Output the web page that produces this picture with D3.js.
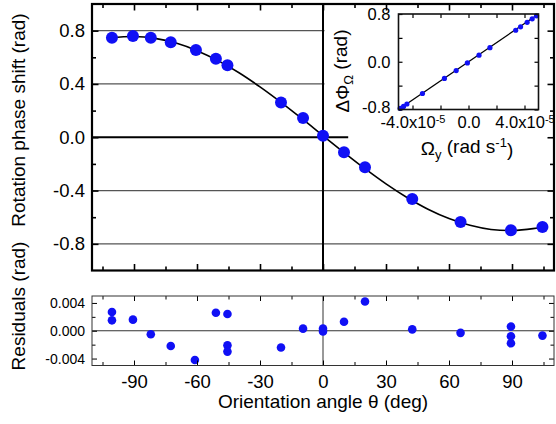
<!DOCTYPE html>
<html><head><meta charset="utf-8">
<script src="https://cdn.jsdelivr.net/npm/d3@7"></script>
<style>
body{margin:0;background:#fff}
text{font-family:"Liberation Sans",Arial,Helvetica,sans-serif;fill:#000}
</style>
</head><body>
<svg id="c" width="556" height="424"></svg>
<script>
// ---- data ----
const thetaMain = [-100.5, -90.5, -82, -72.5, -60.5, -51, -45.5, -20, -9.5, 0, 10, 20, 42.5, 65.5, 89.5, 104.5];
const phaseMain = [0.747, 0.760, 0.747, 0.713, 0.655, 0.590, 0.540, 0.261, 0.144, 0.012, -0.113, -0.226, -0.463, -0.636, -0.698, -0.674];

const fitTheta = [-101, -90, -80, -70, -60, -50, -40, -30, -20, -10, 0, 10, 20, 30, 40, 50, 60, 70, 80, 90, 100, 105];
const fitPhase = [0.746, 0.756, 0.742, 0.707, 0.650, 0.575, 0.484, 0.378, 0.262, 0.139, 0.012, -0.114, -0.236, -0.350, -0.452, -0.540, -0.610, -0.661, -0.692, -0.700, -0.686, -0.671];

const thetaRes = [-100.5, -100.5, -90.5, -82, -72.5, -61, -51, -45.5, -45.5, -45.5, -20, -9.5, 0, 0, 10, 20, 42.5, 65.5, 89.5, 89.5, 89.5, 104.5];
const residuals = [0.0027, 0.0015, 0.0016, -0.0005, -0.0022, -0.0042, 0.0026, 0.0024, -0.0021, -0.0030, -0.0024, 0.0003, 0.0003, -0.0001, 0.0013, 0.0042, 0.0002, -0.0003, 0.0006, -0.0008, -0.0018, -0.0007];

const omegaInset = [-4.88e-5, -4.64e-5, -4.40e-5, -3.29e-5, -1.72e-5, -0.88e-5, -0.08e-5, 0.75e-5, 1.53e-5, 3.37e-5, 3.72e-5, 4.19e-5, 4.55e-5, 4.86e-5];
const dPhiInset = [-0.781, -0.748, -0.708, -0.532, -0.280, -0.148, -0.020, 0.110, 0.235, 0.528, 0.585, 0.660, 0.720, 0.770];
const insetFitOmega = [-5e-5, 5e-5];
const insetFitPhi = [-0.80, 0.80];

const mainGrid = [0.8, 0.4, -0.4, -0.8];
const mainYLabels = [-0.8, -0.4, 0.0, 0.4, 0.8];
const mainYMinor = [-0.6, -0.2, 0.2, 0.6];
const xMajor = [-90, -60, -30, 0, 30, 60, 90];
const xMinor = [-105, -75, -45, -15, 15, 45, 75, 105];
const resYLabels = [-0.004, 0.000, 0.004];
const resYMinor = [-0.002, 0.002];
const insetXTicks = [-4e-5, -2e-5, 0, 2e-5, 4e-5];
const insetXLabels = [-4e-5, 0, 4e-5];
const insetYTicks = [-0.8, -0.4, 0, 0.4, 0.8];
const insetYLabels = [-0.8, 0, 0.8];

// ---- scales ----
const svg = d3.select("#c");
const x = d3.scaleLinear().domain([-110, 110]).range([92, 554]);
const y = d3.scaleLinear().domain([-1, 1]).range([270.5, 4]);
const yr = d3.scaleLinear().domain([-0.005, 0.005]).range([365.5, 296]);
const xi = d3.scaleLinear().domain([-5e-5, 5e-5]).range([398.5, 538.5]);
const yi = d3.scaleLinear().domain([-0.8, 0.8]).range([109.5, 14]);
const blue = "#1010f5";

// ---- main panel ----
const gm = svg.append("g");
gm.selectAll(".grid").data(mainGrid).join("line")
  .attr("x1", x(-110)).attr("x2", x(110)).attr("y1", d => y(d)).attr("y2", d => y(d))
  .attr("stroke", "#555").attr("stroke-width", 1.2);
gm.append("line").attr("x1", x(-110)).attr("x2", x(110)).attr("y1", y(0)).attr("y2", y(0))
  .attr("stroke", "#000").attr("stroke-width", 2);

// white background area of the inset (covers part of the grid)
gm.append("path").attr("fill", "#fff")
  .attr("d", `M${x(0)+1.5},5 H553 V172 H${x(12)} V${y(0)-2} H${x(0)+1.5} Z`);

gm.append("line").attr("x1", x(0)).attr("x2", x(0)).attr("y1", y(1)).attr("y2", y(-1))
  .attr("stroke", "#000").attr("stroke-width", 2);

const fitPts = fitTheta.map((t, i) => [t, fitPhase[i]]);
gm.append("path").datum(fitPts)
  .attr("d", d3.line().x(d => x(d[0])).y(d => y(d[1])).curve(d3.curveCatmullRom))
  .attr("fill", "none").attr("stroke", "#000").attr("stroke-width", 1.6);

gm.selectAll(".pt").data(thetaMain.map((t, i) => [t, phaseMain[i]])).join("circle")
  .attr("cx", d => x(d[0])).attr("cy", d => y(d[1])).attr("r", 6).attr("fill", blue);

// main axes (inward ticks)
function styleAxis(g, sw, fs) {
  g.select(".domain").remove();
  g.selectAll(".tick line").attr("stroke", "#000").attr("stroke-width", sw);
  g.selectAll(".tick text").attr("font-size", fs).attr("font-family", "Liberation Sans, Arial, sans-serif").attr("fill", "#000");
}
const mainAxes = [
  [d3.axisBottom(x).tickValues(xMajor).tickSize(-6.5).tickFormat(""), `translate(0,${y(-1)})`],
  [d3.axisBottom(x).tickValues(xMinor).tickSize(-4).tickFormat(""), `translate(0,${y(-1)})`],
  [d3.axisTop(x).tickValues(xMajor).tickSize(-6.5).tickFormat(""), `translate(0,${y(1)})`],
  [d3.axisTop(x).tickValues(xMinor).tickSize(-4).tickFormat(""), `translate(0,${y(1)})`],
  [d3.axisLeft(y).tickValues(mainYLabels).tickSize(-6.5).tickPadding(7).tickFormat(d3.format(".1f")), `translate(${x(-110)},0)`],
  [d3.axisLeft(y).tickValues(mainYMinor).tickSize(-4).tickFormat(""), `translate(${x(-110)},0)`],
  [d3.axisRight(y).tickValues(mainYLabels).tickSize(-6.5).tickFormat(""), `translate(${x(110)},0)`],
  [d3.axisRight(y).tickValues(mainYMinor).tickSize(-4).tickFormat(""), `translate(${x(110)},0)`]
];
mainAxes.forEach(([ax, tr]) => {
  const g = gm.append("g").attr("transform", tr).call(ax);
  styleAxis(g, 1.6, "18.5px");
});
gm.selectAll("text").text(function(){ return this.textContent.replace("−", "-"); });

gm.append("rect").attr("x", x(-110)).attr("y", y(1)).attr("width", x(110) - x(-110)).attr("height", y(-1) - y(1))
  .attr("fill", "none").attr("stroke", "#000").attr("stroke-width", 2.2);

// ---- inset ----
const gi = svg.append("g");
gi.append("rect").attr("x", xi(-5e-5)).attr("y", yi(0.8)).attr("width", xi(5e-5) - xi(-5e-5)).attr("height", yi(-0.8) - yi(0.8))
  .attr("fill", "#fff");
gi.append("path").datum(insetFitOmega.map((o, i) => [o, insetFitPhi[i]]))
  .attr("d", d3.line().x(d => xi(d[0])).y(d => yi(d[1])))
  .attr("stroke", "#000").attr("stroke-width", 1.3).attr("fill", "none");
gi.selectAll(".ip").data(omegaInset.map((o, i) => [o, dPhiInset[i]])).join("circle")
  .attr("cx", d => xi(d[0])).attr("cy", d => yi(d[1])).attr("r", 2.6).attr("fill", blue);

const insetAxes = [
  [d3.axisBottom(xi).tickValues(insetXTicks).tickSize(-4).tickFormat(""), `translate(0,${yi(-0.8)})`],
  [d3.axisTop(xi).tickValues(insetXTicks).tickSize(-4).tickFormat(""), `translate(0,${yi(0.8)})`],
  [d3.axisLeft(yi).tickValues(insetYTicks).tickSize(-4).tickFormat(""), `translate(${xi(-5e-5)},0)`],
  [d3.axisRight(yi).tickValues(insetYTicks).tickSize(-4).tickFormat(""), `translate(${xi(5e-5)},0)`]
];
insetAxes.forEach(([ax, tr]) => {
  const g = gi.append("g").attr("transform", tr).call(ax);
  styleAxis(g, 1.2, "16.5px");
});
// inset y tick labels
const gyl = gi.append("g").attr("transform", `translate(${xi(-5e-5)},0)`)
  .call(d3.axisLeft(yi).tickValues(insetYLabels).tickSize(0).tickPadding(8).tickFormat(d => d3.format(".1f")(d).replace("−", "-")));
styleAxis(gyl, 0, "16.5px");
gyl.selectAll(".tick text").attr("dy", d => d === -0.8 ? "0.2em" : "0.32em");
// inset x tick labels with powers of ten
const gxl = gi.append("g").attr("transform", `translate(0,${yi(-0.8)})`)
  .call(d3.axisBottom(xi).tickValues(insetXLabels).tickSize(0).tickPadding(7).tickFormat(""));
styleAxis(gxl, 0, "16.5px");
gxl.selectAll(".tick text").each(function(d) {
  const t = d3.select(this);
  t.text(null);
  if (d === 0) { t.append("tspan").text("0.0"); return; }
  const m = d / 1e-5;
  t.append("tspan").text((m < 0 ? "-" : "") + Math.abs(m).toFixed(1) + "x10");
  t.append("tspan").attr("dy", "-0.45em").attr("font-size", "11px").text("-5");
});
gi.append("rect").attr("x", xi(-5e-5)).attr("y", yi(0.8)).attr("width", xi(5e-5) - xi(-5e-5)).attr("height", yi(-0.8) - yi(0.8))
  .attr("fill", "none").attr("stroke", "#111").attr("stroke-width", 1.6);

// inset axis titles
const ixl = gi.append("text").attr("x", 467).attr("y", 155).attr("text-anchor", "middle").attr("font-size", "19px");
ixl.append("tspan").text("Ω");
ixl.append("tspan").attr("dy", "0.3em").attr("font-size", "13px").text("y");
ixl.append("tspan").attr("dy", "-0.3em").text(" (rad s");
ixl.append("tspan").attr("dy", "-0.45em").attr("font-size", "13px").text("-1");
ixl.append("tspan").attr("dy", "0.45em").text(")");

const iyl = gi.append("text").attr("transform", "translate(349,71) rotate(-90)").attr("text-anchor", "middle").attr("font-size", "19px");
iyl.append("tspan").text("ΔΦ");
iyl.append("tspan").attr("dy", "0.3em").attr("font-size", "13px").text("Ω");
iyl.append("tspan").attr("dy", "-0.3em").text(" (rad)");

// ---- residual panel ----
const gr = svg.append("g");
gr.append("line").attr("x1", x(-110)).attr("x2", x(110)).attr("y1", yr(0)).attr("y2", yr(0))
  .attr("stroke", "#333").attr("stroke-width", 1);
gr.append("line").attr("x1", x(0)).attr("x2", x(0)).attr("y1", yr(0.005)).attr("y2", yr(-0.005))
  .attr("stroke", "#333").attr("stroke-width", 1);
gr.selectAll(".rp").data(thetaRes.map((t, i) => [t, residuals[i]])).join("circle")
  .attr("cx", d => x(d[0])).attr("cy", d => yr(d[1])).attr("r", 4.3).attr("fill", blue);

const resAxes = [
  [d3.axisBottom(x).tickValues(xMajor).tickSize(-5).tickPadding(9.5).tickFormat(d3.format("d")), `translate(0,${yr(-0.005)})`],
  [d3.axisBottom(x).tickValues(xMinor).tickSize(-3.5).tickFormat(""), `translate(0,${yr(-0.005)})`],
  [d3.axisTop(x).tickValues(xMajor).tickSize(-5).tickFormat(""), `translate(0,${yr(0.005)})`],
  [d3.axisTop(x).tickValues(xMinor).tickSize(-3.5).tickFormat(""), `translate(0,${yr(0.005)})`],
  [d3.axisLeft(yr).tickValues(resYLabels).tickSize(-5).tickPadding(7).tickFormat(d3.format(".3f")), `translate(${x(-110)},0)`],
  [d3.axisLeft(yr).tickValues(resYMinor).tickSize(-3.5).tickFormat(""), `translate(${x(-110)},0)`],
  [d3.axisRight(yr).tickValues(resYLabels).tickSize(-5).tickFormat(""), `translate(${x(110)},0)`],
  [d3.axisRight(yr).tickValues(resYMinor).tickSize(-3.5).tickFormat(""), `translate(${x(110)},0)`]
];
resAxes.forEach(([ax, tr], i) => {
  const g = gr.append("g").attr("transform", tr).call(ax);
  styleAxis(g, 1, i === 0 ? "18.5px" : "14px");
});
gr.selectAll("text").text(function(){ return this.textContent.replace("−", "-"); });
gr.append("rect").attr("x", x(-110)).attr("y", yr(0.005)).attr("width", x(110) - x(-110)).attr("height", yr(-0.005) - yr(0.005))
  .attr("fill", "none").attr("stroke", "#333").attr("stroke-width", 1);

// ---- axis titles ----
svg.append("text").attr("transform", "translate(25,120) rotate(-90)").attr("text-anchor", "middle")
  .attr("font-size", "19px").text("Rotation phase shift (rad)");
svg.append("text").attr("transform", "translate(25,306) rotate(-90)").attr("text-anchor", "middle")
  .attr("font-size", "19px").text("Residuals (rad)");
svg.append("text").attr("x", 323).attr("y", 408).attr("text-anchor", "middle")
  .attr("font-size", "19px").text("Orientation angle θ (deg)");
</script>
</body></html>
